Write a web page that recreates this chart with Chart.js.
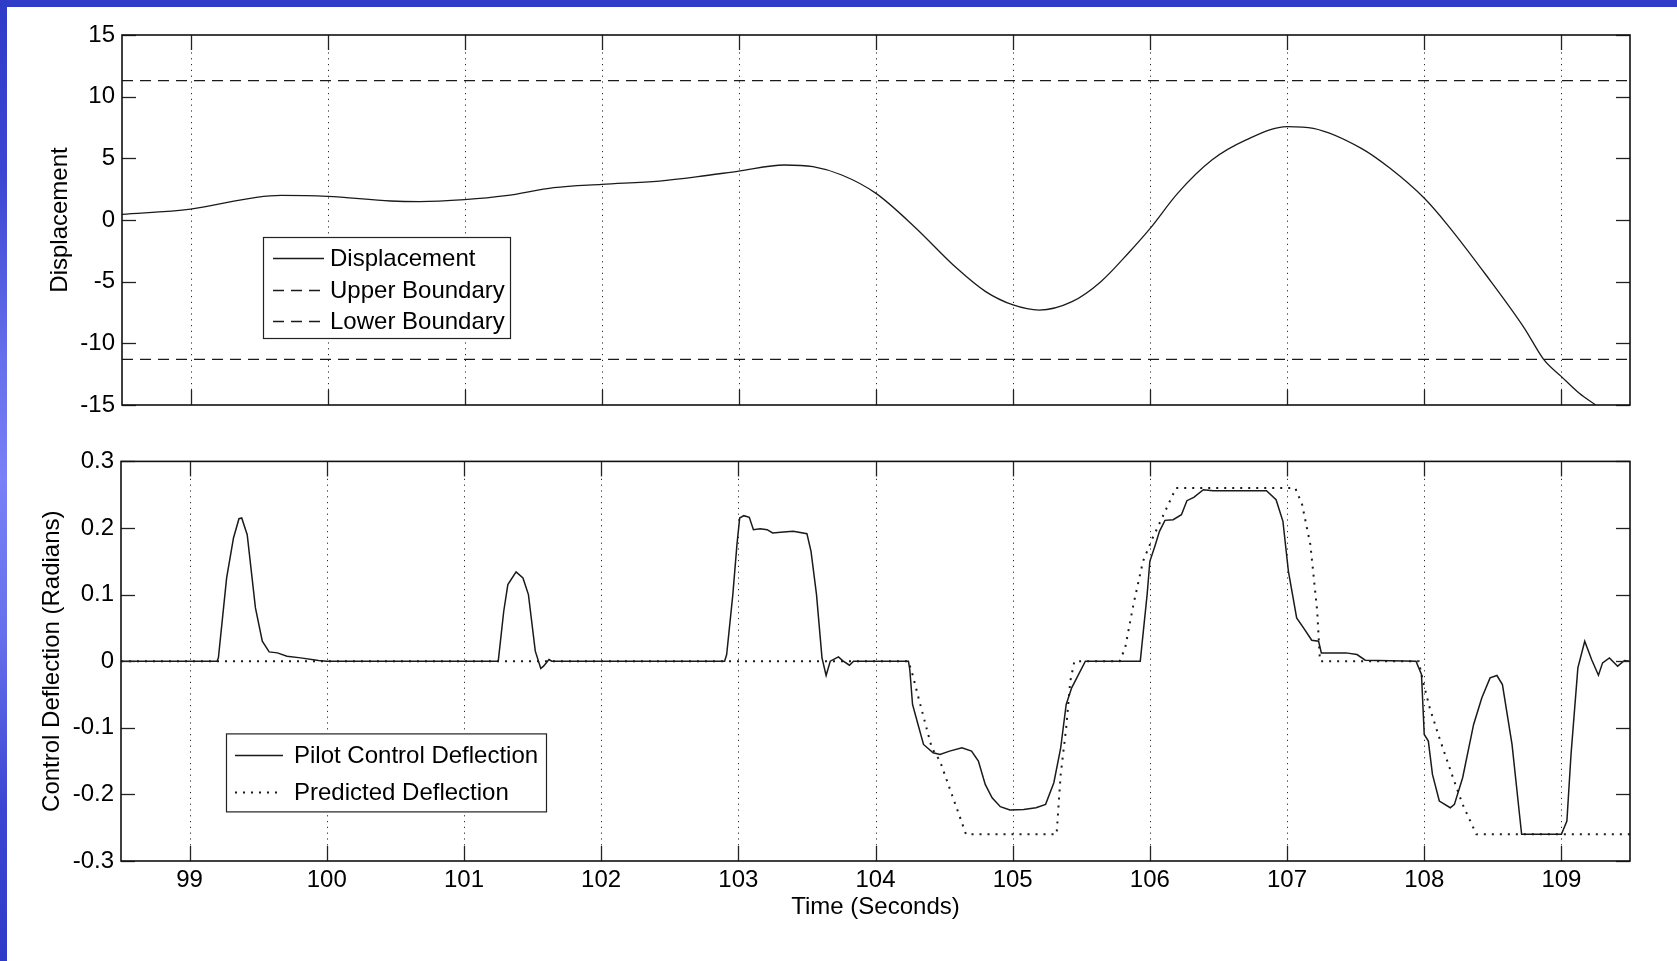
<!DOCTYPE html>
<html><head><meta charset="utf-8">
<script src="https://cdn.jsdelivr.net/npm/chart.js@4.4.1/dist/chart.umd.min.js"></script>
<style>
html,body{margin:0;padding:0;background:#fff;}
body{width:1677px;height:961px;position:relative;overflow:hidden;}
#topband{position:absolute;left:0;top:0;width:1677px;height:7px;background:#2f3cc8;z-index:5;}
#leftband{position:absolute;left:0;top:0;width:7px;height:961px;z-index:5;
 background:linear-gradient(to bottom,#2e3bc7 0%,#3a46d2 18%,#6770ec 38%,#7780f6 50%,#6670ec 66%,#3a46d2 84%,#2e3bc7 100%);}
.cw{position:absolute;left:0;width:1677px;}
</style></head>
<body>
<div id="topband"></div><div id="leftband"></div>
<div class="cw" style="top:0;height:440px"><canvas id="c1" width="1677" height="440"></canvas></div>
<div class="cw" style="top:440px;height:521px"><canvas id="c2" width="1677" height="521"></canvas></div>
<script>
// ---------- data ----------
const xTickValues = [99,100,101,102,103,104,105,106,107,108,109];
const xTickLabels = ['99','100','101','102','103','104','105','106','107','108','109'];
const dispTickValues = [15,10,5,0,-5,-10,-15];
const dispTickLabels = ['15','10','5','0','-5','-10','-15'];
const defTickValues = [0.3,0.2,0.1,0,-0.1,-0.2,-0.3];
const defTickLabels = ['0.3','0.2','0.1','0','-0.1','-0.2','-0.3'];

const dispT = [98.5,99.0,99.48,99.66,100.0,100.46,100.67,101.0,101.3,101.65,102.0,102.42,102.7,103.0,103.33,103.54,103.75,104.0,104.28,104.59,104.8,105.0,105.19,105.43,105.64,105.85,106.0,106.2,106.45,106.7,107.0,107.19,107.54,107.75,108.0,108.17,108.45,108.73,108.87,109.0,109.13,109.25];
const dispV = [0.46,0.89,1.84,2.0,1.92,1.54,1.49,1.65,1.97,2.62,2.89,3.16,3.51,3.97,4.46,4.32,3.65,2.16,-0.54,-3.92,-5.81,-6.89,-7.30,-6.62,-5.0,-2.57,-0.68,2.16,4.86,6.49,7.57,7.43,5.81,4.19,1.76,-0.41,-4.46,-8.78,-11.3,-12.7,-14.05,-15.0];
const boundT = [98.5,109.5];
const upperV = [11.3,11.3];
const lowerV = [-11.3,-11.3];

const pilotT = [98.5,99.2,99.21,99.27,99.32,99.36,99.38,99.42,99.48,99.53,99.58,99.64,99.71,99.81,99.94,100.0,
 101.25,101.29,101.32,101.38,101.43,101.47,101.52,101.56,101.58,101.62,101.64,
 102.9,102.915,102.96,102.99,103.01,103.04,103.08,103.11,103.16,103.21,103.25,103.33,103.4,103.5,103.53,103.57,103.61,103.64,103.67,103.73,103.76,103.81,103.84,
 104.24,104.25,104.27,104.31,104.35,104.42,104.47,104.54,104.63,104.7,104.75,104.8,104.85,104.91,104.98,105.08,105.17,105.24,105.3,105.35,105.39,105.43,105.53,
 105.93,105.94,105.98,106.0,106.04,106.07,106.11,106.17,106.23,106.27,106.32,106.39,106.46,106.85,106.92,106.97,107.01,107.04,107.07,107.12,107.18,107.23,107.25,107.43,107.51,107.57,
 107.94,107.98,108.0,108.03,108.06,108.11,108.19,108.22,108.28,108.36,108.42,108.48,108.53,108.57,108.64,108.71,109.0,109.04,109.07,109.12,109.17,109.22,109.27,109.3,109.35,109.41,109.46,109.5];
const pilotV = [0,0,0.005,0.125,0.185,0.214,0.215,0.19,0.08,0.03,0.014,0.0125,0.0075,0.005,0.001,0,
 0,0.075,0.115,0.134,0.125,0.1,0.015,-0.011,-0.0075,0.0025,0,
 0,0.01,0.1,0.175,0.215,0.2185,0.216,0.1975,0.199,0.1975,0.1925,0.194,0.195,0.1915,0.165,0.1,0.005,-0.0215,0,0.0065,0.001,-0.006,0,
 0,-0.0125,-0.065,-0.095,-0.125,-0.1375,-0.14,-0.135,-0.13,-0.135,-0.15,-0.185,-0.205,-0.2185,-0.2235,-0.2225,-0.22,-0.215,-0.1825,-0.13,-0.065,-0.04,0,
 0,0.02,0.1,0.15,0.175,0.195,0.2115,0.2125,0.22,0.241,0.246,0.2575,0.256,0.256,0.2425,0.21,0.135,0.1,0.065,0.05,0.0315,0.03,0.0125,0.0125,0.01,0.0015,
 0,-0.02,-0.11,-0.12,-0.17,-0.21,-0.22,-0.215,-0.175,-0.095,-0.055,-0.025,-0.0215,-0.035,-0.125,-0.26,-0.26,-0.24,-0.14,-0.01,0.03,0.0025,-0.021,-0.0025,0.005,-0.0075,0.001,0];

const predT = [98.5,104.24,104.27,104.32,104.41,104.47,104.66,105.32,105.35,105.39,105.42,105.45,105.78,105.82,105.88,105.95,106.02,106.1,106.19,107.06,107.11,107.17,107.22,107.24,107.96,107.99,108.04,108.11,108.21,108.28,108.38,109.5];
const predV = [0,0,-0.02,-0.06,-0.13,-0.15,-0.26,-0.26,-0.17,-0.1,-0.03,0,0,0.02,0.085,0.15,0.185,0.22,0.26,0.26,0.235,0.175,0.075,0,0,-0.03,-0.07,-0.115,-0.175,-0.215,-0.26,-0.26];

const pts = (t, v) => t.map((x, i) => ({x: x, y: v[i]}));

// ---------- plugin: MATLAB-style box, inside ticks, dotted x-grid, legend ----------
const matlabAxes = {
  id: 'matlabAxes',
  beforeDatasetsDraw(chart, args, o) {
    const {ctx, chartArea: a, scales: {x}} = chart;
    ctx.save();
    ctx.strokeStyle = '#2a2a2a'; ctx.lineWidth = 1; ctx.setLineDash([1.2, 4.6]);
    o.xTicks.forEach(v => {
      const px = Math.round(x.getPixelForValue(v)) + 0.5;
      ctx.beginPath(); ctx.moveTo(px, a.top); ctx.lineTo(px, a.bottom); ctx.stroke();
    });
    ctx.restore();
  },
  afterDatasetsDraw(chart, args, o) {
    const {ctx, chartArea: a, scales: {x, y}} = chart;
    ctx.save();
    ctx.setLineDash([]);
    ctx.strokeStyle = '#222'; ctx.lineWidth = 1.3;
    o.xTicks.forEach(v => {
      const px = Math.round(x.getPixelForValue(v)) + 0.5;
      ctx.beginPath(); ctx.moveTo(px, a.top); ctx.lineTo(px, a.top + 15); ctx.stroke();
      ctx.beginPath(); ctx.moveTo(px, a.bottom); ctx.lineTo(px, a.bottom - 15); ctx.stroke();
    });
    o.yTicks.forEach(v => {
      const py = Math.round(y.getPixelForValue(v)) + 0.5;
      ctx.beginPath(); ctx.moveTo(a.left, py); ctx.lineTo(a.left + 14, py); ctx.stroke();
      ctx.beginPath(); ctx.moveTo(a.right, py); ctx.lineTo(a.right - 14, py); ctx.stroke();
    });
    ctx.strokeStyle = '#111'; ctx.lineWidth = 1.6;
    ctx.strokeRect(a.left, a.top, a.right - a.left, a.bottom - a.top);
    // legend
    const L = o.legend;
    const bx = a.left + L.dx, by = a.top + L.dy;
    ctx.fillStyle = '#fff';
    ctx.fillRect(bx, by, L.w, L.h);
    ctx.strokeStyle = '#222'; ctx.lineWidth = 1.2;
    ctx.strokeRect(bx + 0.5, by + 0.5, L.w, L.h);
    ctx.font = '24px "Liberation Sans", Arial, sans-serif';
    ctx.textBaseline = 'middle'; ctx.textAlign = 'left';
    L.items.forEach((it, i) => {
      const ds = chart.data.datasets[it];
      const ry = by + L.rows[i];
      ctx.strokeStyle = ds.borderColor; ctx.lineWidth = ds.borderWidth;
      ctx.setLineDash(ds.borderDash || []);
      ctx.beginPath(); ctx.moveTo(bx + L.x0, Math.round(ry) + 0.5); ctx.lineTo(bx + L.x1, Math.round(ry) + 0.5); ctx.stroke();
      ctx.setLineDash([]);
      ctx.fillStyle = '#000';
      ctx.fillText(ds.label, bx + L.tx, ry + 1);
    });
    ctx.restore();
  }
};

const FONT = {family: '"Liberation Sans", Arial, sans-serif', size: 24};

function setTicks(values) {
  return function(scale) { scale.ticks = values.map(v => ({value: v})); };
}
function labelFrom(values, labels) {
  return function(v) { const i = values.findIndex(t => Math.abs(t - v) < 1e-9); return i >= 0 ? labels[i] : ''; };
}

// ---------- top chart ----------
new Chart(document.getElementById('c1'), {
  type: 'line',
  data: {datasets: [
    {label: 'Displacement', data: pts(dispT, dispV), borderColor: '#1a1a1a', borderWidth: 1.3, pointRadius: 0, cubicInterpolationMode: 'monotone', fill: false},
    {label: 'Upper Boundary', data: pts(boundT, upperV), borderColor: '#1a1a1a', borderWidth: 1.4, borderDash: [11, 7], pointRadius: 0, fill: false},
    {label: 'Lower Boundary', data: pts(boundT, lowerV), borderColor: '#1a1a1a', borderWidth: 1.4, borderDash: [11, 7], pointRadius: 0, fill: false}
  ]},
  options: {
    responsive: false, animation: false, events: [],
    layout: {padding: {top: 35, right: 47, bottom: 35, left: 0}},
    scales: {
      x: {type: 'linear', min: 98.5, max: 109.5, display: false},
      y: {type: 'linear', min: -15, max: 15,
          afterBuildTicks: setTicks(dispTickValues),
          afterFit: s => { s.width = 122; },
          grid: {display: false, drawTicks: false}, border: {display: false},
          ticks: {color: '#000', font: FONT, padding: 7, callback: labelFrom(dispTickValues, dispTickLabels)},
          title: {display: true, text: 'Displacement', color: '#000', font: FONT, padding: {top: 46, bottom: 0}}}
    },
    plugins: {
      legend: {display: false}, tooltip: {enabled: false},
      matlabAxes: {xTicks: xTickValues, yTicks: dispTickValues,
        legend: {dx: 141, dy: 202, w: 247, h: 101, rows: [21, 53, 84], x0: 10, x1: 61, tx: 67, items: [0, 1, 2]}}
    }
  },
  plugins: [matlabAxes]
});

// ---------- bottom chart ----------
new Chart(document.getElementById('c2'), {
  type: 'line',
  data: {datasets: [
    {label: 'Pilot Control Deflection', data: pts(pilotT, pilotV), borderColor: '#1a1a1a', borderWidth: 1.5, pointRadius: 0, tension: 0, fill: false},
    {label: 'Predicted Deflection', data: pts(predT, predV), borderColor: '#1a1a1a', borderWidth: 2, borderDash: [2, 6], pointRadius: 0, tension: 0, fill: false}
  ]},
  options: {
    responsive: false, animation: false, events: [],
    layout: {padding: {top: 21, right: 47, bottom: 20, left: 0}},
    scales: {
      x: {type: 'linear', min: 98.5, max: 109.5,
          afterBuildTicks: setTicks(xTickValues),
          afterFit: s => { s.height = 80; },
          grid: {display: false, drawTicks: false}, border: {display: false},
          ticks: {color: '#000', font: FONT, padding: 5, maxRotation: 0, autoSkip: false, callback: labelFrom(xTickValues, xTickLabels)},
          title: {display: true, text: 'Time (Seconds)', color: '#000', font: FONT, padding: {top: 0, bottom: 19}}},
      y: {type: 'linear', min: -0.3, max: 0.3,
          afterBuildTicks: setTicks(defTickValues),
          afterFit: s => { s.width = 121; },
          grid: {display: false, drawTicks: false}, border: {display: false},
          ticks: {color: '#000', font: FONT, padding: 7, callback: labelFrom(defTickValues, defTickLabels)},
          title: {display: true, text: 'Control Deflection (Radians)', color: '#000', font: FONT, padding: {top: 38, bottom: 0}}}
    },
    plugins: {
      legend: {display: false}, tooltip: {enabled: false},
      matlabAxes: {xTicks: xTickValues, yTicks: defTickValues,
        legend: {dx: 105, dy: 272, w: 320, h: 78, rows: [22, 59], x0: 9, x1: 57, tx: 68, items: [0, 1]}}
    }
  },
  plugins: [matlabAxes]
});
</script>
</body></html>
